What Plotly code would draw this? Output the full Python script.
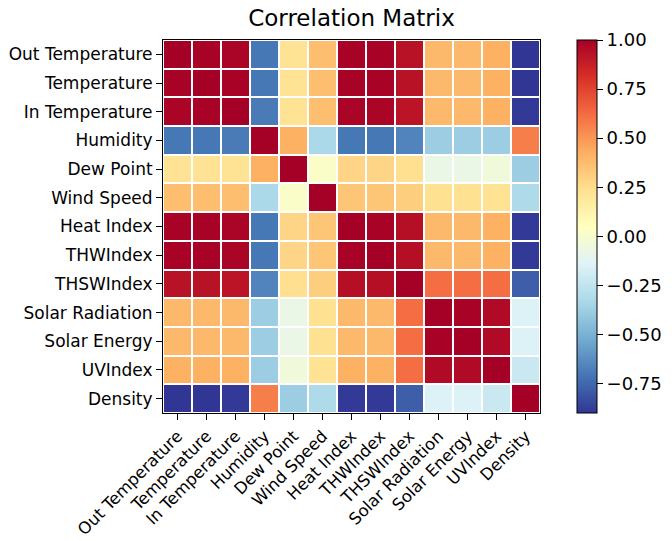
import plotly.graph_objects as go

labels = ["Out Temperature", "Temperature", "In Temperature", "Humidity", "Dew Point",
          "Wind Speed", "Heat Index", "THWIndex", "THSWIndex", "Solar Radiation",
          "Solar Energy", "UVIndex", "Density"]

row_out_temp = [1.00, 0.99, 0.98, -0.70, 0.22, 0.37, 0.99, 0.99, 0.93, 0.39, 0.39, 0.42, -0.90]
row_temp     = [0.99, 1.00, 0.99, -0.70, 0.22, 0.37, 0.99, 0.99, 0.93, 0.39, 0.39, 0.42, -0.90]
row_in_temp  = [0.98, 0.99, 1.00, -0.69, 0.22, 0.37, 0.98, 0.98, 0.92, 0.39, 0.39, 0.42, -0.89]
row_humidity = [-0.70, -0.70, -0.69, 1.00, 0.42, -0.33, -0.70, -0.70, -0.66, -0.38, -0.38, -0.38, 0.57]
row_dew      = [0.22, 0.22, 0.22, 0.42, 1.00, 0.02, 0.28, 0.28, 0.24, -0.08, -0.08, -0.04, -0.38]
row_wind     = [0.37, 0.37, 0.37, -0.33, 0.02, 1.00, 0.34, 0.34, 0.31, 0.23, 0.23, 0.22, -0.32]
row_heat     = [0.99, 0.99, 0.98, -0.70, 0.28, 0.34, 1.00, 0.99, 0.94, 0.39, 0.39, 0.42, -0.89]
row_thw      = [0.99, 0.99, 0.98, -0.70, 0.28, 0.34, 0.99, 1.00, 0.94, 0.39, 0.39, 0.42, -0.89]
row_thsw     = [0.93, 0.93, 0.92, -0.66, 0.24, 0.31, 0.94, 0.94, 1.00, 0.62, 0.62, 0.62, -0.78]
row_solar_r  = [0.39, 0.39, 0.39, -0.38, -0.08, 0.23, 0.39, 0.39, 0.62, 1.00, 0.99, 0.96, -0.15]
row_solar_e  = [0.39, 0.39, 0.39, -0.38, -0.08, 0.23, 0.39, 0.39, 0.62, 0.99, 1.00, 0.96, -0.15]
row_uv       = [0.42, 0.42, 0.42, -0.38, -0.04, 0.22, 0.42, 0.42, 0.62, 0.96, 0.96, 1.00, -0.22]
row_density  = [-0.90, -0.90, -0.89, 0.57, -0.38, -0.32, -0.89, -0.89, -0.78, -0.15, -0.15, -0.22, 1.00]

corr = [row_out_temp, row_temp, row_in_temp, row_humidity, row_dew, row_wind, row_heat,
        row_thw, row_thsw, row_solar_r, row_solar_e, row_uv, row_density]

cbar_ticks = [-0.75, -0.5, -0.25, 0.0, 0.25, 0.5, 0.75, 1.0]
cbar_text = ["\u22120.75", "\u22120.50", "\u22120.25", "0.00", "0.25", "0.50", "0.75", "1.00"]

rdylbu_r = ["#313695", "#4575b4", "#74add1", "#abd9e9", "#e0f3f8", "#ffffbf",
            "#fee090", "#fdae61", "#f46d43", "#d73027", "#a50026"]
colorscale = [[i / 10, c] for i, c in enumerate(rdylbu_r)]

zmin = min(min(r) for r in corr)
zmax = max(max(r) for r in corr)

font = "DejaVu Sans"

fig = go.Figure(go.Heatmap(
    z=corr, x=labels, y=labels,
    colorscale=colorscale, zmin=zmin, zmax=zmax,
    xgap=2, ygap=2,
    colorbar=dict(
        x=1.098, xanchor="left", xpad=0, y=0.5, yanchor="middle",
        len=1.0, lenmode="fraction", ypad=0, thickness=20,
        outlinecolor="black", outlinewidth=1,
        tickvals=cbar_ticks, ticktext=cbar_text, ticks="outside", ticklen=6,
        tickcolor="black", tickfont=dict(family=font, size=18, color="black"),
    ),
))

fig.update_layout(
    width=672, height=541,
    margin=dict(l=163, r=132, t=40, b=128, autoexpand=False),
    paper_bgcolor="white", plot_bgcolor="white",
    title=dict(text="Correlation Matrix", x=(163 + 188.5) / 672, xanchor="center",
               y=1 - 18 / 541, yanchor="middle",
               font=dict(family=font, size=23, color="black")),
    font=dict(family=font, color="black"),
)
fig.update_xaxes(tickangle=-45, ticks="outside", ticklen=6, tickcolor="black",
                 showline=True, mirror=True, linecolor="black", linewidth=1,
                 automargin=False,
                 tickfont=dict(family=font, size=16.5, color="black"), showgrid=False)
fig.update_yaxes(autorange="reversed", ticks="outside", ticklen=6, tickcolor="black",
                 showline=True, mirror=True, linecolor="black", linewidth=1,
                 automargin=False,
                 tickfont=dict(family=font, size=17, color="black"), showgrid=False)

fig.write_html("out.html")
